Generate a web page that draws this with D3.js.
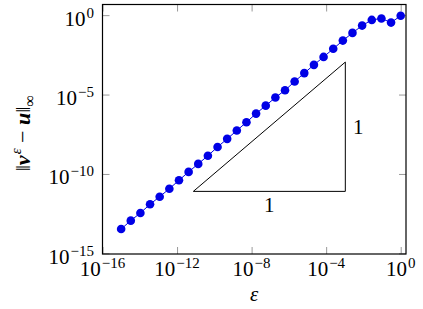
<!DOCTYPE html>
<html>
<head>
<meta charset="utf-8">
<script src="https://cdn.jsdelivr.net/npm/d3@7"></script>
<style>
  body { margin: 0; background: #fff; }
  svg { display: block; font-family: "Liberation Serif", "DejaVu Serif", serif; }
</style>
</head>
<body>
<div id="chart"></div>
<script>
var width = 423, height = 309;
// plot box (pixels)
var boxLeft = 102.5, boxRight = 406, boxTop = 4.5, boxBottom = 254;

// data
var epsilon = [1e-15, 3.29e-15, 1.08e-14, 3.56e-14, 1.17e-13, 3.86e-13, 1.27e-12, 4.18e-12,
               1.37e-11, 4.52e-11, 1.49e-10, 4.89e-10, 1.61e-9, 5.30e-9, 1.74e-8, 5.74e-8,
               1.89e-7, 6.21e-7, 2.04e-6, 6.72e-6, 2.21e-5, 7.28e-5, 2.40e-4, 7.88e-4,
               2.59e-3, 8.53e-3, 2.81e-2, 9.24e-2, 0.304, 1];
var errInf = [3.4e-14, 1.15e-13, 3.5e-13, 1.23e-12, 3.7e-12, 1.17e-11, 4.0e-11, 1.35e-10,
              4.3e-10, 1.41e-9, 5.0e-9, 1.62e-8, 5.4e-8, 1.82e-7, 6.3e-7, 2.0e-6,
              6.5e-6, 1.86e-5, 6.6e-5, 2.24e-4, 7.4e-4, 2.34e-3, 7.6e-3, 2.5e-2,
              7.6e-2, 0.22, 0.50, 0.62, 0.34, 0.91];
var xTickExp = [-16, -12, -8, -4, 0];
var yTickExp = [-15, -10, -5, 0];
// slope triangle corners
var slopeX = [7.5e-12, 1.07e-3];
var slopeY = [8.0e-12, 1.11e-3];

var svg = d3.select("#chart").append("svg")
            .attr("width", width).attr("height", height);

var xScale = d3.scaleLog()
                .domain([1e-16, Math.pow(10, 0.285)])
                .range([boxLeft, boxRight]);
var yScale = d3.scaleLog()
                .domain([Math.pow(10, -15.04), Math.pow(10, 0.67)])
                .range([boxBottom, boxTop]);

var xTicks = xTickExp.map(function(e){ return Math.pow(10, e); });
var yTicks = yTickExp.map(function(e){ return Math.pow(10, e); });

// ticks on all four sides, pointing inwards
function styleAxis(g) {
    g.select(".domain").remove();
    g.selectAll(".tick line").attr("stroke", "#999").attr("stroke-width", 1);
}
svg.append("g").attr("transform", "translate(0," + boxBottom + ")")
   .call(d3.axisBottom(xScale).tickValues(xTicks).tickSize(-7).tickFormat(""))
   .call(styleAxis);
svg.append("g").attr("transform", "translate(0," + boxTop + ")")
   .call(d3.axisTop(xScale).tickValues(xTicks).tickSize(-7).tickFormat(""))
   .call(styleAxis);
svg.append("g").attr("transform", "translate(" + boxLeft + ",0)")
   .call(d3.axisLeft(yScale).tickValues(yTicks).tickSize(-7).tickFormat(""))
   .call(styleAxis);
svg.append("g").attr("transform", "translate(" + boxRight + ",0)")
   .call(d3.axisRight(yScale).tickValues(yTicks).tickSize(-7).tickFormat(""))
   .call(styleAxis);

// frame
svg.append("rect")
   .attr("x", boxLeft).attr("y", boxTop)
   .attr("width", boxRight - boxLeft).attr("height", boxBottom - boxTop)
   .attr("fill", "none").attr("stroke", "#000").attr("stroke-width", 1.2);

function expText(e) { return e < 0 ? "\u2212" + (-e) : "" + e; }

// tick labels 10^k
var xl = svg.append("g").selectAll("text").data(xTickExp).enter().append("text")
            .attr("x", function(d){ return xScale(Math.pow(10, d)); })
            .attr("y", boxBottom + 22)
            .attr("text-anchor", "middle")
            .attr("font-size", 21);
xl.append("tspan").text("10");
xl.append("tspan").attr("dx", 1).attr("dy", -8).attr("font-size", 15).text(function(d){ return expText(d); });

var yl = svg.append("g").selectAll("text").data(yTickExp).enter().append("text")
            .attr("x", boxLeft - 8.5)
            .attr("y", function(d){ return yScale(Math.pow(10, d)) + 10.5; })
            .attr("text-anchor", "end")
            .attr("font-size", 21);
yl.append("tspan").text("10");
yl.append("tspan").attr("dx", 1).attr("dy", -8).attr("font-size", 15).text(function(d){ return expText(d); });

// axis labels
svg.append("text")
   .attr("x", (boxLeft + boxRight) / 2).attr("y", 301)
   .attr("text-anchor", "middle")
   .attr("font-size", 21).attr("font-style", "italic")
   .text("\u03b5");

var ylab = svg.append("text")
   .attr("transform", "translate(30," + ((boxTop + boxBottom) / 2 + 4) + ") rotate(-90)")
   .attr("text-anchor", "middle")
   .attr("font-size", 22);
ylab.append("tspan").text("\u2016");
ylab.append("tspan").attr("font-weight", "bold").attr("font-style", "italic").text("v");
ylab.append("tspan").attr("dx", 1).attr("dy", -9).attr("font-size", 15).attr("font-style", "italic").text("\u03b5");
ylab.append("tspan").attr("dy", 9).text("\u00a0\u2212\u00a0");
ylab.append("tspan").attr("font-weight", "bold").attr("font-style", "italic").text("u");
ylab.append("tspan").text("\u2016");
ylab.append("tspan").attr("dy", 5).attr("font-size", 16).text("\u221e");

// slope triangle
var tri = [[slopeX[0], slopeY[0]], [slopeX[1], slopeY[1]], [slopeX[1], slopeY[0]]];
svg.append("path")
   .attr("d", d3.line().x(function(d){ return xScale(d[0]); }).y(function(d){ return yScale(d[1]); })(tri) + "Z")
   .attr("fill", "none").attr("stroke", "#000").attr("stroke-width", 1);

svg.append("text")
   .attr("x", (xScale(slopeX[0]) + xScale(slopeX[1])) / 2)
   .attr("y", yScale(slopeY[0]) + 21)
   .attr("text-anchor", "middle").attr("font-size", 21)
   .text("1");
svg.append("text")
   .attr("x", xScale(slopeX[1]) + 13)
   .attr("y", (yScale(slopeY[0]) + yScale(slopeY[1])) / 2 + 7)
   .attr("text-anchor", "middle").attr("font-size", 21)
   .text("1");

// data line and marks
var pts = epsilon.map(function(e, i){ return [e, errInf[i]]; });
svg.append("path")
   .attr("d", d3.line().x(function(d){ return xScale(d[0]); }).y(function(d){ return yScale(d[1]); })(pts))
   .attr("fill", "none").attr("stroke", "#0000e6").attr("stroke-width", 1);

svg.append("g").selectAll("circle").data(pts).enter().append("circle")
   .attr("cx", function(d){ return xScale(d[0]); })
   .attr("cy", function(d){ return yScale(d[1]); })
   .attr("r", 4.3)
   .attr("fill", "#0000e6");
</script>
</body>
</html>
